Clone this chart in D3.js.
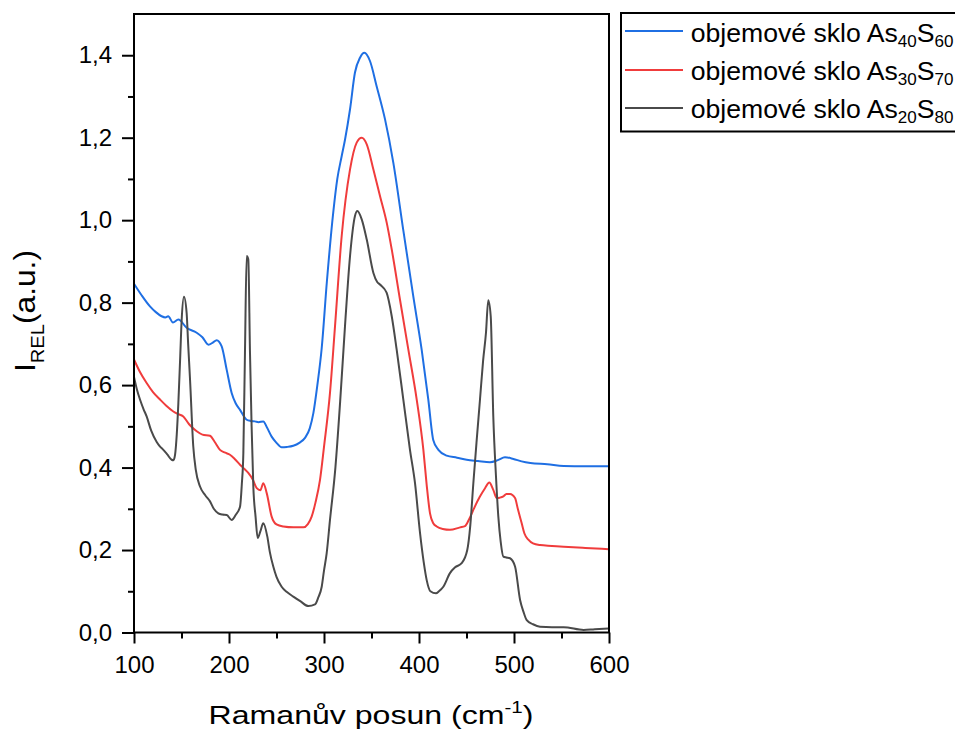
<!DOCTYPE html>
<html><head><meta charset="utf-8">
<script src="https://cdn.jsdelivr.net/npm/d3@7"></script>
<style>
body{margin:0;background:#fff;}
svg text{font-family:"Liberation Sans",Arial,sans-serif;fill:#000;}
</style></head>
<body><svg id="c" width="955" height="733"></svg>
<script>
// ---- data ----
const seriesNames = ["As40S60", "As30S70", "As20S80"];
const seriesLabels = [["40","60"],["30","70"],["20","80"]];
const seriesColors = ["#1f6fe3", "#f03c3c", "#4a4a4a"];

const blueX = [100,108,116.8,123,129,133,136,141,146.7,155.4,166,172,178.3,183,187,192.3,197.6,202.8,207,211.6,218.6,223,227.4,231,236.1,240,244.9,250,255.4,261,267.7,274,280,285,288.8,293,297.6,303,309.8,314,318.6,322.1,327.4,332.6,337.9,342.5,348.4,355.4,364.2,373,383.5,394,402.8,409.8,415,420.4,429.1,440,450.2,462,474.7,483,490.5,499.3,508,517.2,535,552.3,575,599.7];
const blueY = [0.846,0.818,0.791,0.777,0.767,0.764,0.767,0.752,0.759,0.739,0.727,0.716,0.698,0.703,0.709,0.694,0.637,0.581,0.556,0.540,0.516,0.513,0.512,0.510,0.512,0.497,0.475,0.460,0.449,0.450,0.453,0.460,0.472,0.495,0.532,0.600,0.690,0.850,1.020,1.100,1.155,1.195,1.269,1.358,1.394,1.406,1.386,1.325,1.245,1.139,0.975,0.815,0.686,0.565,0.467,0.443,0.429,0.424,0.419,0.416,0.413,0.418,0.425,0.421,0.415,0.411,0.408,0.404,0.403,0.403];

const redX = [100,106,113.3,120,127.4,134,141.4,146,151.9,158,166,172,180,185,190.5,196,201,206,211.6,216,220.3,225,229.2,233,236.1,239.7,244.9,250,257.2,268,278.2,283,287,291,295.8,300,306.3,311.6,318.6,327.4,334.4,339.7,345,352,359,366,371.3,380,388.8,397.6,404.6,408,411.6,415,418.6,425,432.6,443.2,448.4,453,458.9,464,469.5,474,478.2,481.8,485,488.8,492,495.8,501.1,504,508.1,511,515.1,520,527.4,540,552.3,575,599.7];
const redY = [0.662,0.633,0.605,0.583,0.565,0.550,0.536,0.530,0.524,0.505,0.488,0.480,0.477,0.462,0.443,0.436,0.431,0.421,0.407,0.397,0.387,0.371,0.350,0.345,0.362,0.338,0.281,0.262,0.257,0.255,0.255,0.263,0.281,0.315,0.370,0.450,0.581,0.743,0.961,1.123,1.188,1.200,1.184,1.123,1.058,0.994,0.929,0.807,0.686,0.565,0.443,0.360,0.289,0.265,0.257,0.251,0.249,0.255,0.258,0.276,0.306,0.329,0.350,0.364,0.346,0.326,0.327,0.330,0.336,0.336,0.326,0.300,0.265,0.240,0.225,0.216,0.212,0.210,0.208,0.205,0.202];

const blackX = [100,103,106.3,110,113.3,118,123.9,127,130.9,135,139.6,141.5,143.2,145,146.7,148.5,150.2,152.6,155.4,157,159,162.4,165,169.5,175,180,184,188.8,193,197.6,202.8,207,211.6,213.5,215.1,216.8,218.6,220.3,222.1,223.8,225.6,228,230.2,233,236.1,240.3,243,246.6,250,255.4,261,267.7,275,283.5,290.5,294,297.6,300,302.8,306.3,312,317,322.1,327.4,332.6,335.1,339.7,345,352,356,358.9,365.9,371.3,376.5,383.5,390.5,395.8,401.1,405,408.1,412,417.9,421,425.6,432.6,438,444.9,450.8,454,457.2,460.5,464.2,467.5,470.5,472.9,475.5,478.2,481,483.5,486,488.8,492,495.8,501.1,506.4,510,513.4,520,527.4,540,552.3,573.3,585,599.7];
const blackY = [0.620,0.590,0.565,0.542,0.524,0.490,0.462,0.452,0.443,0.432,0.419,0.418,0.431,0.480,0.557,0.660,0.759,0.814,0.775,0.700,0.613,0.451,0.395,0.354,0.333,0.318,0.300,0.289,0.286,0.285,0.273,0.285,0.305,0.360,0.435,0.678,0.913,0.905,0.678,0.500,0.354,0.280,0.229,0.245,0.265,0.233,0.195,0.160,0.135,0.111,0.098,0.087,0.076,0.064,0.068,0.085,0.111,0.150,0.192,0.273,0.400,0.560,0.743,0.913,1.010,1.022,1.002,0.953,0.872,0.850,0.844,0.824,0.767,0.686,0.565,0.443,0.362,0.241,0.170,0.127,0.100,0.095,0.100,0.111,0.144,0.158,0.168,0.200,0.260,0.362,0.460,0.565,0.660,0.727,0.806,0.767,0.524,0.380,0.281,0.220,0.184,0.182,0.180,0.160,0.079,0.050,0.030,0.020,0.014,0.013,0.013,0.006,0.008,0.010];

const xTickValues = [100,200,300,400,500,600];
const xMinorTicks = [150,250,350,450,550];
const yTickValues = [0,0.2,0.4,0.6,0.8,1.0,1.2,1.4];
const yMinorTicks = [0.1,0.3,0.5,0.7,0.9,1.1,1.3];

// ---- layout ----
const svg = d3.select("#c");
const L = 134, R = 609, T = 14, B = 632.5;
const x = d3.scaleLinear().domain([100,600]).range([L,R]);
const y = d3.scaleLinear().domain([0,1.5]).range([B,T]);
const fmt = d => d3.format(".1f")(d).replace(".", ",");

const series = [
  {xs: blueX, ys: blueY},
  {xs: redX, ys: redY},
  {xs: blackX, ys: blackY}
];

const line = d3.line().curve(d3.curveMonotoneX).x(d => x(d[0])).y(d => y(d[1]));
const plot = svg.append("g");
plot.append("clipPath").attr("id","clip").append("rect").attr("x",L).attr("y",T).attr("width",R-L).attr("height",B-T);
series.forEach((s,i) => {
  const pts = s.xs.map((v,k) => [v, s.ys[k]]);
  plot.append("path").attr("d", line(pts)).attr("fill","none")
    .attr("stroke", seriesColors[i]).attr("stroke-width",2).attr("stroke-linejoin","round")
    .attr("clip-path","url(#clip)");
});

// frame
svg.append("rect").attr("x",L).attr("y",T).attr("width",R-L).attr("height",B-T)
  .attr("fill","none").attr("stroke","#000").attr("stroke-width",2);

// axes
const xAxis = svg.append("g").attr("transform",`translate(0,${B})`)
  .call(d3.axisBottom(x).tickValues(xTickValues).tickSize(11).tickPadding(12).tickFormat(d3.format("d")));
const xMinor = svg.append("g").attr("transform",`translate(0,${B})`)
  .call(d3.axisBottom(x).tickValues(xMinorTicks).tickSize(6).tickFormat(""));
const yAxis = svg.append("g").attr("transform",`translate(${L},0)`)
  .call(d3.axisLeft(y).tickValues(yTickValues).tickSize(12).tickPadding(10).tickFormat(fmt));
const yMinor = svg.append("g").attr("transform",`translate(${L},0)`)
  .call(d3.axisLeft(y).tickValues(yMinorTicks).tickSize(6).tickFormat(""));
[xAxis,xMinor,yAxis,yMinor].forEach(g => {
  g.select(".domain").remove();
  g.selectAll(".tick line").attr("stroke","#000").attr("stroke-width",2);
  g.selectAll(".tick text").attr("font-size",24).attr("fill","#000")
   .style("font-family","'Liberation Sans',Arial,sans-serif");
});

// axis titles
const xtg = svg.append("g");
const xt = xtg.append("text").attr("x",0).attr("y",0).attr("text-anchor","middle").attr("font-size",26.5);
xt.append("tspan").text("Ramanův posun (cm");
xt.append("tspan").attr("font-size",17).attr("dy",-11).text("-1");
xt.append("tspan").attr("dy",11).text(")");
{
  const w = xt.node().getBBox().width;
  xtg.attr("transform",`translate(${(208+534)/2},723.5) scale(${325/w},1)`);
}

const ytg = svg.append("g");
const yt = ytg.append("text").attr("x",0).attr("y",0).attr("text-anchor","middle").attr("font-size",30);
yt.append("tspan").text("I");
yt.append("tspan").attr("font-size",19).attr("dy",9).text("REL");
yt.append("tspan").attr("dy",-9).text("(a.u.)");
{
  const w = yt.node().getBBox().width;
  ytg.attr("transform",`translate(35,311) rotate(-90) scale(${122/w},1)`);
}

// legend
const lg = svg.append("g");
lg.append("rect").attr("x",621).attr("y",13).attr("width",340).attr("height",118.5)
  .attr("fill","#fff").attr("stroke","#000").attr("stroke-width",2);
const rowsLineY = [31,70,108];
const rowsTextY = [42,80,118];
seriesNames.forEach((n,i) => {
  lg.append("line").attr("x1",625).attr("x2",683).attr("y1",rowsLineY[i]).attr("y2",rowsLineY[i])
    .attr("stroke",seriesColors[i]).attr("stroke-width",2);
  const tg = lg.append("g");
  const t = tg.append("text").attr("x",0).attr("y",0).attr("font-size",25);
  t.append("tspan").text("objemové sklo As");
  t.append("tspan").attr("font-size",16).attr("dy",5).text(seriesLabels[i][0]);
  t.append("tspan").attr("dy",-5).text("S");
  t.append("tspan").attr("font-size",16).attr("dy",5).text(seriesLabels[i][1]);
  const w = t.node().getBBox().width;
  tg.attr("transform",`translate(690.7,${rowsTextY[i]}) scale(${263/w},1)`);
});
</script></body></html>
